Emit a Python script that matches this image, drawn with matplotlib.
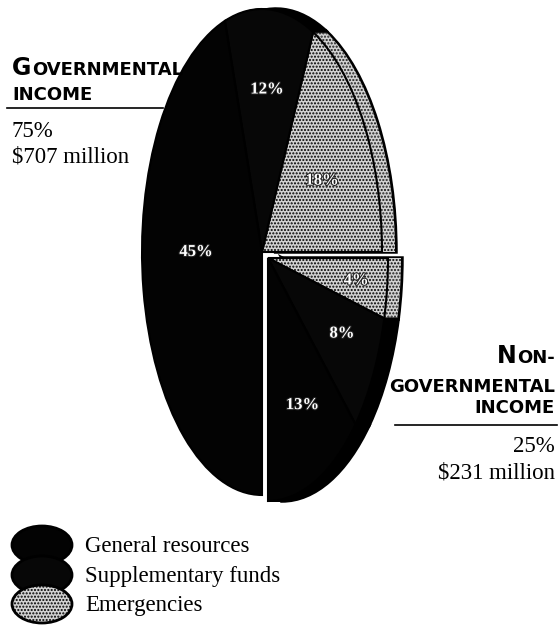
import matplotlib
matplotlib.use("Agg")
import matplotlib.pyplot as plt
import matplotlib.patheffects as pe
from matplotlib.patches import Ellipse
from matplotlib.lines import Line2D
import numpy as np

# income split, % of total
categories = ["General resources", "Supplementary funds", "Emergencies"]
gov_share = [45, 12, 18]
nongov_share = [13, 8, 4]
gov_total = 75
nongov_total = 25
gov_amount = 707      # $ million
nongov_amount = 231

colors = {"General resources": "#030303",
          "Supplementary funds": "#070707",
          "Emergencies": "#d2d2d2"}

W, H = 559, 632
CX, CY = 262, 252     # pie centre, px
RX, RY = 120, 243     # squashed pie radii, px
BACK = 14             # disc thickness seen on the right, px
SHIFT = (6, 6)        # offset of the non-governmental quarter, px

SERIF = "Liberation Serif"
SANS = "DejaVu Sans"


def d(px, py):
    """pixel -> data coords of the pie axes"""
    return ((px - CX) / RX, (CY - py) / RY)


def f(px, py):
    """pixel -> figure fraction"""
    return (px / W, 1 - py / H)


fig = plt.figure(figsize=(W / 100, H / 100), dpi=100)
ax = fig.add_axes([0, 0, 1, 1])

# wedge order around the pie: emergencies next to the 3 o'clock line
order = [2, 1, 0]
gov_vals = [gov_share[i] / 100 for i in order]
non_vals = [nongov_share[i] / 100 for i in order]
cols = [colors[categories[i]] for i in order]

c_gov = d(CX, CY)
c_non = d(CX + SHIFT[0], CY + SHIFT[1])


def draw(vals, center, ccw, lw, n=None, fill=False):
    n = len(vals) if n is None else n
    wedges, _ = ax.pie(vals[:n], colors=cols[:n], radius=1, center=center,
                       startangle=0, counterclock=ccw, normalize=False,
                       wedgeprops=dict(edgecolor="black", linewidth=lw))
    for w, i in zip(wedges, order):
        if categories[i] == "Emergencies":
            w.set_hatch(".....")
            if fill:
                w.set_linewidth(0)
    return wedges


# disc thickness on the right: back face first, then fill towards the front
shifts = np.linspace(BACK, 0, 15)[:-1] / RX
for k, s in enumerate(shifts):
    lw = 2.5 if k == 0 else 1.0
    draw(gov_vals, (c_gov[0] + s, c_gov[1]), True, lw, n=2, fill=k > 0)
    draw(non_vals, (c_non[0] + s, c_non[1]), False, lw, fill=k > 0)
front_gov = draw(gov_vals, c_gov, True, 1.5)
front_non = draw(non_vals, c_non, False, 1.5)

# percentage labels: (radius factor, angle tweak)
lab_pos = {"gov": [(0.58, -2), (0.67, 0), (0.55, -9)],
           "non": [(0.74, 0), (0.69, 2), (0.67, 2)]}
for key, wedges, vals, center in [("gov", front_gov, [gov_share[i] for i in order], c_gov),
                                  ("non", front_non, [nongov_share[i] for i in order], c_non)]:
    for w, v, (r, dt) in zip(wedges, vals, lab_pos[key]):
        ang = np.deg2rad((w.theta1 + w.theta2) / 2 + dt)
        ax.text(center[0] + r * np.cos(ang), center[1] + r * np.sin(ang), f"{v}%",
                ha="center", va="center", color="white", fontsize=12,
                fontweight="bold", family=SERIF,
                path_effects=[pe.withStroke(linewidth=1.5, foreground="#222222")])

ax.set_aspect("auto")
ax.set_xlim(-CX / RX, (W - CX) / RX)
ax.set_ylim((CY - H) / RY, CY / RY)
ax.axis("off")

# governmental block
g = fig.text(*f(12, 75), "G", fontsize=17, fontweight="bold", family=SANS,
             va="baseline")
fig.canvas.draw()
bb = g.get_window_extent()
fig.text((bb.x1 + 1) / W, 1 - 75 / H, "OVERNMENTAL", fontsize=13,
         fontweight="bold", family=SANS, va="baseline")
fig.text(*f(12, 100), "INCOME", fontsize=13, fontweight="bold", family=SANS,
         va="baseline")
fig.add_artist(Line2D([7 / W, 163 / W], [1 - 108 / H] * 2, color="black", lw=1.2))
fig.text(*f(12, 137), f"{gov_total}%", fontsize=16.5, family=SERIF, va="baseline")
fig.text(*f(12, 163), f"${gov_amount} million", fontsize=16.5, family=SERIF,
         va="baseline")

# non-governmental block
on = fig.text(*f(555, 363), "ON-", fontsize=13, fontweight="bold", family=SANS,
              va="baseline", ha="right")
fig.canvas.draw()
bb = on.get_window_extent()
fig.text((bb.x0 - 1) / W, 1 - 363 / H, "N", fontsize=17, fontweight="bold",
         family=SANS, va="baseline", ha="right")
fig.text(*f(555, 392), "GOVERNMENTAL", fontsize=13, fontweight="bold",
         family=SANS, va="baseline", ha="right")
fig.text(*f(555, 413), "INCOME", fontsize=13, fontweight="bold", family=SANS,
         va="baseline", ha="right")
fig.add_artist(Line2D([395 / W, 557 / W], [1 - 425 / H] * 2, color="black", lw=1.2))
fig.text(*f(555, 452), f"{nongov_total}%", fontsize=16.5, family=SERIF,
         va="baseline", ha="right")
fig.text(*f(555, 479), f"${nongov_amount} million", fontsize=16.5, family=SERIF,
         va="baseline", ha="right")

# legend: stacked ovals
leg_y = [545, 575, 604]
for name, y in zip(categories, leg_y):
    e = Ellipse(d(42, y), 60 / RX, 38 / RY, facecolor=colors[name],
                edgecolor="black", lw=2)
    if name == "Emergencies":
        e.set_hatch(".....")
    ax.add_patch(e)
    fig.text(*f(85, y + 7), name, fontsize=16.5, family=SERIF, va="baseline")

fig.savefig("out.png", dpi=100)
